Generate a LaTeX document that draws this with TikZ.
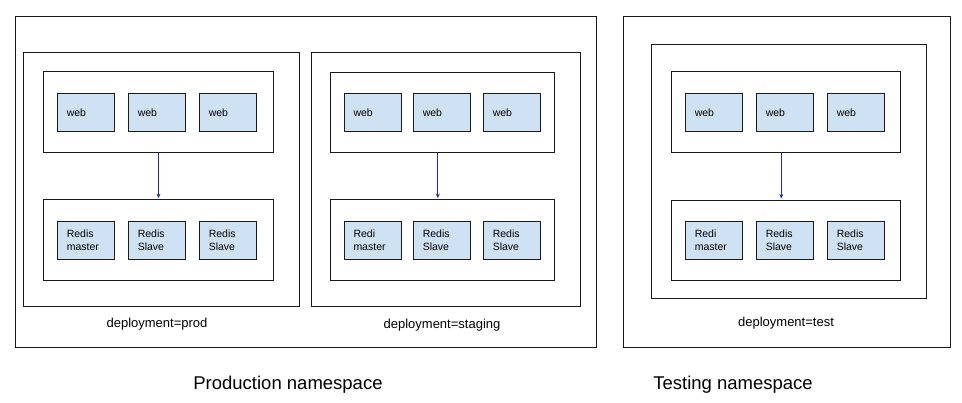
\documentclass[tikz,border=0pt]{standalone}
\usepackage{fontspec}
\setmainfont{Liberation Sans}
\usetikzlibrary{arrows.meta}
\definecolor{podfill}{HTML}{CFE2F3}
\definecolor{arrowblue}{HTML}{2424C8}
\definecolor{edge}{HTML}{1A1A1A}
\begin{document}
\begin{tikzpicture}[x=1pt,y=-1pt,
  frame/.style={draw=edge,line width=1pt,fill=white,anchor=north west,inner sep=0pt},
  pod/.style={draw=edge,line width=1pt,fill=podfill,anchor=north west,inner xsep=9pt,inner ysep=0pt,
    text width=39pt,minimum height=37.5pt,align=left,font=\fontsize{10.5}{12.7}\selectfont},
  lbl/.style={font=\fontsize{13}{15}\selectfont,inner sep=0pt},
  big/.style={font=\fontsize{18.5}{22}\selectfont,inner sep=0pt},
  link/.style={draw=arrowblue,line width=0.9pt,-{Stealth[length=4.5pt,width=4pt]},shorten >=1.2pt}]
\useasboundingbox (0,0) rectangle (962,402);
% ---------------- Production namespace
\node[frame,minimum width=580.2pt,minimum height=331pt] (prodns) at (15.3,16) {};
% deployment=prod
\node[frame,minimum width=276pt,minimum height=254pt] (dprod) at (23.3,52.3) {};
\node[frame,minimum width=229.4pt,minimum height=81pt] (pweb) at (43.3,71.3) {};
\node[pod,minimum width=57pt] (pw1) at (57.3,93.3) {web};
\node[pod] (pw2) at (128.3,93.3) {web};
\node[pod] (pw3) at (199.3,93.3) {web};
\node[frame,minimum width=229.4pt,minimum height=81pt] (pred) at (43.3,199.3) {};
\node[pod] (pr1) at (57.3,221.3) {Redis\\master};
\node[pod] (pr2) at (128.3,221.3) {Redis\\Slave};
\node[pod] (pr3) at (199.3,221.3) {Redis\\Slave};
\draw[link] (pweb.south) -- (pred.north);
\node[lbl] (lprod) at (157,324) {deployment=prod};
% deployment=staging
\node[frame,minimum width=269pt,minimum height=254pt] (dstag) at (311.3,52.3) {};
\node[frame,minimum width=224pt,minimum height=80.5pt] (sweb) at (330.3,71.5) {};
\node[pod] (sw1) at (344,93.3) {web};
\node[pod] (sw2) at (413.3,93.3) {web};
\node[pod] (sw3) at (483.3,93.3) {web};
\node[frame,minimum width=224pt,minimum height=80.7pt] (sred) at (330.3,199.3) {};
\node[pod] (sr1) at (344,221.3) {Redi\\master};
\node[pod] (sr2) at (413.3,221.3) {Redis\\Slave};
\node[pod] (sr3) at (483.3,221.3) {Redis\\Slave};
\draw[link] ([xshift=-5pt]sweb.south) -- ([xshift=-5pt]sred.north);
\node[lbl] (lstag) at (442,325) {deployment=staging};
\node[big] (prodlbl) at (288,384.5) {Production namespace};
% ---------------- Testing namespace
\node[frame,minimum width=326.4pt,minimum height=331pt] (testns) at (623.3,16) {};
\node[frame,minimum width=275pt,minimum height=253.7pt] (dtest) at (651.3,44.3) {};
\node[frame,minimum width=229pt,minimum height=81pt] (tweb) at (671.3,71.3) {};
\node[pod] (tw1) at (685.3,93.3) {web};
\node[pod] (tw2) at (756.3,93.3) {web};
\node[pod] (tw3) at (827.3,93.3) {web};
\node[frame,minimum width=229pt,minimum height=80.3pt] (tred) at (671.3,199.7) {};
\node[pod] (tr1) at (685.3,221.3) {Redi\\master};
\node[pod] (tr2) at (756.3,221.3) {Redis\\Slave};
\node[pod] (tr3) at (827.3,221.3) {Redis\\Slave};
\draw[link] ([xshift=-5pt]tweb.south) -- ([xshift=-5pt]tred.north);
\node[lbl] (ltest) at (786,323.5) {deployment=test};
\node[big] (testlbl) at (733,384.5) {Testing namespace};
\end{tikzpicture}
\end{document}
